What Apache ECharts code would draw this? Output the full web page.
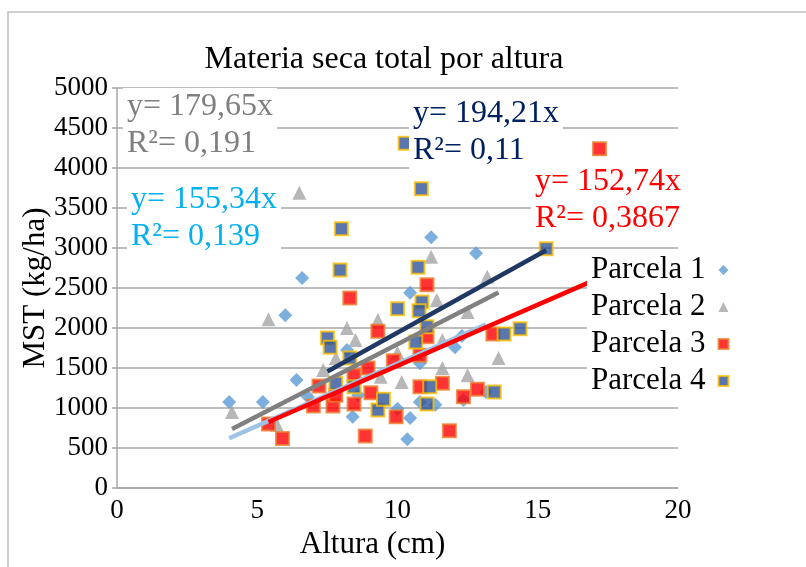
<!DOCTYPE html>
<html>
<head>
<meta charset="utf-8">
<script src="https://cdn.jsdelivr.net/npm/echarts@6/dist/echarts.min.js"></script>
<style>
  html, body { margin: 0; padding: 0; background: #fff; }
  #chart { width: 806px; height: 567px; }
</style>
</head>
<body>
<div id="chart"></div>
<script>
// Altura (cm) vs materia seca total (kg/ha), one series per parcela
const parcela1 = [
  [4.0, 1075], [5.2, 1075], [6.6, 2625], [6.0, 2160], [6.4, 1350], [6.8, 1140],
  [8.2, 1725], [8.4, 890], [8.6, 1160], [11.2, 3135], [12.8, 2935], [10.45, 2440],
  [12.05, 1760], [12.3, 1900], [10.8, 1560], [10.8, 1075], [11.35, 1040], [10.0, 990],
  [10.45, 875], [10.35, 610], [12.35, 1100], [13.15, 1200]
];
const parcela2 = [
  [6.5, 3690], [5.4, 2110], [4.1, 950], [5.7, 790], [8.2, 2000], [8.5, 1850],
  [9.3, 2100], [7.8, 1625], [7.35, 1475], [11.2, 2890], [13.2, 2640], [11.4, 2350],
  [12.5, 2200], [11.6, 1850], [10.0, 1690], [13.6, 1625], [11.6, 1500], [12.5, 1410],
  [10.15, 1325], [9.4, 1390]
];
const parcela3 = [
  [17.2, 4240], [8.3, 2375], [9.3, 1960], [11.05, 2540], [11.05, 1890], [13.4, 1925],
  [9.85, 1590], [10.8, 1660], [5.4, 800], [5.9, 620], [7.2, 1275], [7.7, 1025],
  [7.0, 1025], [8.45, 1050], [8.45, 1410], [9.05, 1190], [8.95, 1500], [9.95, 890],
  [8.85, 650], [7.8, 1160], [10.8, 1265], [11.6, 1310], [12.35, 1140], [12.85, 1235],
  [11.85, 715]
];
const parcela4 = [
  [10.27, 4310], [10.85, 3740], [8.0, 3240], [15.3, 2990], [7.95, 2725], [10.0, 2240],
  [7.5, 1875], [7.6, 1760], [8.3, 1625], [10.73, 2760], [10.87, 2325], [10.77, 2215],
  [11.05, 2015], [10.65, 1825], [13.8, 1925], [14.37, 1990], [7.8, 1310], [8.45, 1265],
  [9.3, 975], [9.5, 1110], [11.15, 1265], [11.05, 1050], [13.45, 1200]
];

const seriesNames = ['Parcela 1', 'Parcela 2', 'Parcela 3', 'Parcela 4'];
// Linear fits through the origin: slope and R²
const slopes = [155.34, 179.65, 152.74, 194.21];
const slopeLabels = ['155,34', '179,65', '152,74', '194,21'];
const r2Labels = ['0,139', '0,191', '0,3867', '0,11'];

const allData = [parcela1, parcela2, parcela3, parcela4];
const FONT = '"Liberation Serif", "Times New Roman", serif';

const markerStyles = [
  { symbol: 'diamond', symbolSize: 14, itemStyle: { color: '#5B9BD5' } },
  { symbol: 'triangle', symbolSize: 14, itemStyle: { color: '#A5A5A5' } },
  { symbol: 'rect', symbolSize: 13, itemStyle: { color: '#FF0000', borderColor: '#ED7D31', borderWidth: 2 } },
  { symbol: 'rect', symbolSize: 13, itemStyle: { color: '#2F5597', borderColor: '#FFC000', borderWidth: 2 } }
];
const trendColors = ['#9DC3E6', '#808080', '#FF0000', '#1F3864'];
const labelColors = ['#00B0F0', '#7F7F7F', '#FF0000', '#002060'];
// where each fit's equation box sits (left, top) in px
const labelBoxes = [[127, 181], [123, 88], [531, 163], [409, 95]];

function fitLine(data, slope) {
  const xs = data.map(d => d[0]);
  const x0 = Math.min.apply(null, xs), x1 = Math.max.apply(null, xs);
  return [[x0, slope * x0], [x1, slope * x1]];
}

const series = [];
allData.forEach((data, i) => {
  series.push(Object.assign({
    name: seriesNames[i],
    type: 'scatter',
    data: data,
    z: 2 + i
  }, markerStyles[i]));
});
[1, 0, 2, 3].forEach(i => {
  series.push({
    name: 'fit' + i,
    type: 'line',
    data: fitLine(allData[i], slopes[i]),
    symbol: 'none',
    silent: true,
    z: 10,
    lineStyle: { color: trendColors[i], width: 4.5 }
  });
});

const graphics = [{
  type: 'rect',
  shape: { x: 8, y: 12, width: 900, height: 700 },
  style: { fill: 'none', stroke: '#BFBFBF', lineWidth: 1.5 },
  z: 0
}];
labelBoxes.forEach((pos, i) => {
  graphics.push({
    type: 'text',
    x: pos[0], y: pos[1],
    z: 50,
    style: {
      text: 'y= ' + slopeLabels[i] + 'x\nR²= ' + r2Labels[i],
      fill: labelColors[i],
      font: '32px ' + FONT,
      lineHeight: 37,
      backgroundColor: '#fff',
      padding: [0, 4, 0, 4]
    }
  });
});

const chart = echarts.init(document.getElementById('chart'));
chart.setOption({
  animation: false,
  backgroundColor: '#fff',
  textStyle: { fontFamily: FONT, color: '#000' },
  title: {
    text: 'Materia seca total por altura',
    left: 379, top: 39, textAlign: 'center',
    textStyle: { fontFamily: FONT, fontSize: 32, fontWeight: 'normal', color: '#000' }
  },
  grid: { left: 117, top: 88, right: 128, bottom: 79, containLabel: false },
  legend: {
    data: seriesNames,
    orient: 'vertical',
    left: 587, top: 252,
    z: 30,
    align: 'right',
    itemWidth: 10, itemHeight: 10,
    itemGap: 5,
    backgroundColor: '#fff',
    padding: [2, 4, 2, 4],
    textStyle: { fontFamily: FONT, fontSize: 31, color: '#000', lineHeight: 32, padding: [0, 8, 0, 0] }
  },
  xAxis: {
    type: 'value', min: 0, max: 20, interval: 5,
    name: 'Altura (cm)', nameLocation: 'middle', nameGap: 28,
    nameTextStyle: { fontFamily: FONT, fontSize: 31, color: '#000', padding: [0, 50, 0, 0] },
    axisLine: { show: true, lineStyle: { color: '#A6A6A6', width: 1.5 } },
    axisTick: { show: false },
    splitLine: { show: false },
    axisLabel: { fontFamily: FONT, fontSize: 27, color: '#000', margin: 9 }
  },
  yAxis: {
    type: 'value', min: 0, max: 5000, interval: 500,
    name: 'MST (kg/ha)', nameLocation: 'middle', nameGap: 66,
    nameMoveOverlap: false,
    nameTextStyle: { fontFamily: FONT, fontSize: 31, color: '#000' },
    axisLine: { show: true, lineStyle: { color: '#A6A6A6', width: 1.5 } },
    axisTick: { show: true, length: 5, lineStyle: { color: '#A6A6A6', width: 1.5 } },
    splitLine: { show: true, lineStyle: { color: '#A6A6A6', width: 1.5 } },
    axisLabel: {
      fontFamily: FONT, fontSize: 27, color: '#000', margin: 9,
      formatter: v => String(v)
    }
  },
  graphic: graphics,
  series: series
});
</script>
</body>
</html>
